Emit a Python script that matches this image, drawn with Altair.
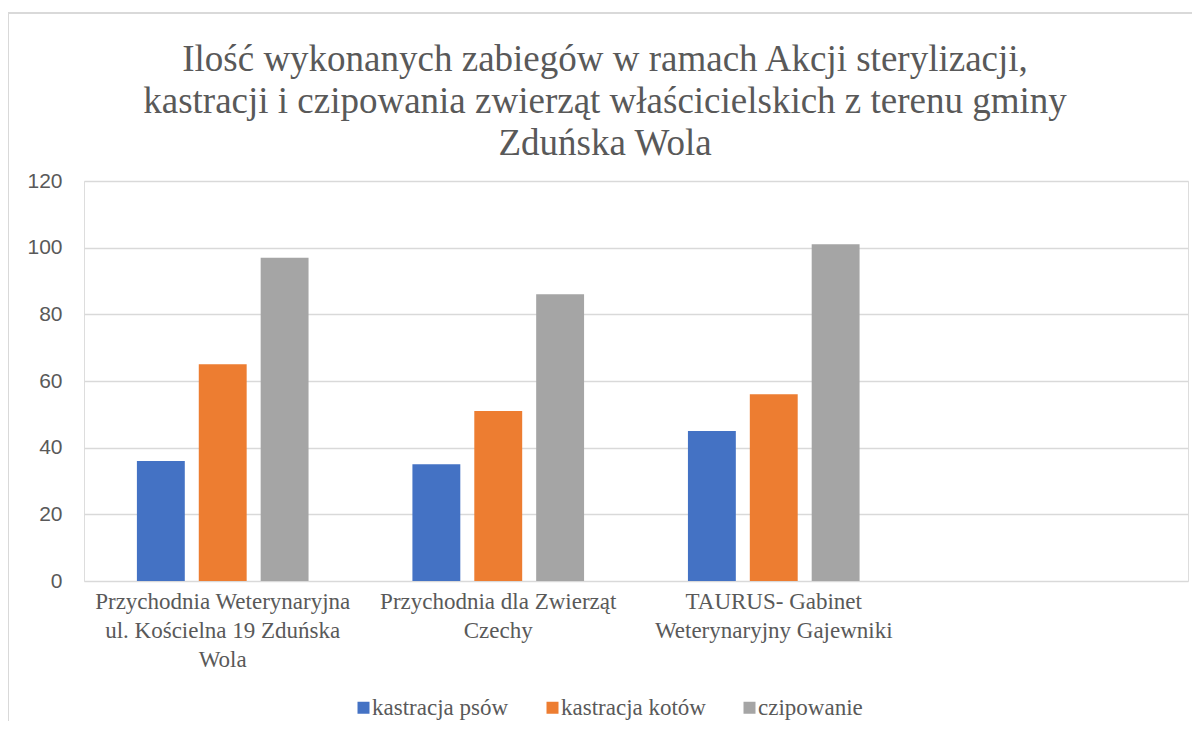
import altair as alt
import pandas as pd

# ---- data ----
categories = [
    "Przychodnia Weterynaryjna|ul. Kościelna 19 Zduńska|Wola",
    "Przychodnia dla Zwierząt|Czechy",
    "TAURUS- Gabinet|Weterynaryjny Gajewniki",
]
empty_slot = [" "]
series = ["kastracja psów", "kastracja kotów", "czipowanie"]
kastracja_psow = [36, 35, 45]
kastracja_kotow = [65, 51, 56]
czipowanie = [97, 86, 101]
y_ticks = [0, 20, 40, 60, 80, 100, 120]
colors = ["#4472C4", "#ED7D31", "#A5A5A5"]
title_lines = [
    "Ilość wykonanych zabiegów w ramach Akcji sterylizacji,",
    "kastracji i czipowania zwierząt właścicielskich z terenu gminy",
    "Zduńska Wola",
]

rows = []
for s, vals in zip(series, [kastracja_psow, kastracja_kotow, czipowanie]):
    for c, v in zip(categories, vals):
        rows.append({"placówka": c, "seria": s, "wartość": v})
df = pd.DataFrame(rows)

GREY = "#595959"
SERIF = "'Liberation Serif', 'Times New Roman', serif"

bars = alt.Chart(df).mark_bar().encode(
    x=alt.X(
        "placówka:N",
        sort=None,
        scale=alt.Scale(domain=categories + empty_slot, paddingInner=0.377, paddingOuter=0.192),
        axis=alt.Axis(
            title=None,
            labelAngle=0,
            labelExpr="split(datum.value, '|')",
            labelFont=SERIF,
            labelFontSize=23,
            labelColor=GREY,
            labelLineHeight=29,
            labelPadding=9,
            labelBaseline="top",
            labelLimit=1000,
            domain=False,
            ticks=False,
            grid=False,
        ),
    ),
    xOffset=alt.XOffset(
        "seria:N",
        sort=None,
        scale=alt.Scale(domain=series, paddingInner=0.226, paddingOuter=0),
    ),
    y=alt.Y(
        "wartość:Q",
        scale=alt.Scale(domain=[0, 120], nice=False),
        axis=alt.Axis(
            title=None,
            values=y_ticks,
            labelFont="Liberation Sans",
            labelFontSize=21,
            labelColor=GREY,
            labelPadding=22,
            domain=False,
            ticks=False,
            grid=True,
            gridColor="#d9d9d9",
            gridWidth=1.5,
        ),
    ),
    color=alt.Color(
        "seria:N",
        sort=None,
        scale=alt.Scale(domain=series, range=colors),
        legend=alt.Legend(
            title=None,
            orient="none",
            direction="horizontal",
            legendX=268,
            legendY=515,
            symbolType="square",
            symbolSize=144,
            symbolStrokeWidth=0,
            labelFont=SERIF,
            labelFontSize=23,
            labelColor=GREY,
            labelOffset={"expr": "-3"},
            labelLimit=1000,
            columnPadding=32,
        ),
    ),
)

frame_df = pd.DataFrame({"k": [0]})
frame_left = alt.Chart(frame_df).mark_rule(color="#d9d9d9", strokeWidth=2).encode(
    x=alt.value(-76), y=alt.value(-168), y2=alt.value(600)
)
frame_top = alt.Chart(frame_df).mark_rule(color="#d9d9d9", strokeWidth=2).encode(
    x=alt.value(-77), x2=alt.value(1130), y=alt.value(-168)
)

chart = alt.layer(frame_left, frame_top, bars).properties(
    width=1104,
    height=400,
    autosize=alt.AutoSizeParams(type="none"),
    padding={"left": 76, "top": 173, "right": 4, "bottom": 140},
    title=alt.TitleParams(
        text=title_lines,
        font=SERIF,
        fontSize=37,
        fontWeight="normal",
        color=GREY,
        lineHeight=42,
        anchor="middle",
        dx=-31,
        offset=-151,
    ),
).configure_view(stroke=None).configure(background="white")

chart.save("out.html", embed_options={"renderer": "svg", "actions": False})
